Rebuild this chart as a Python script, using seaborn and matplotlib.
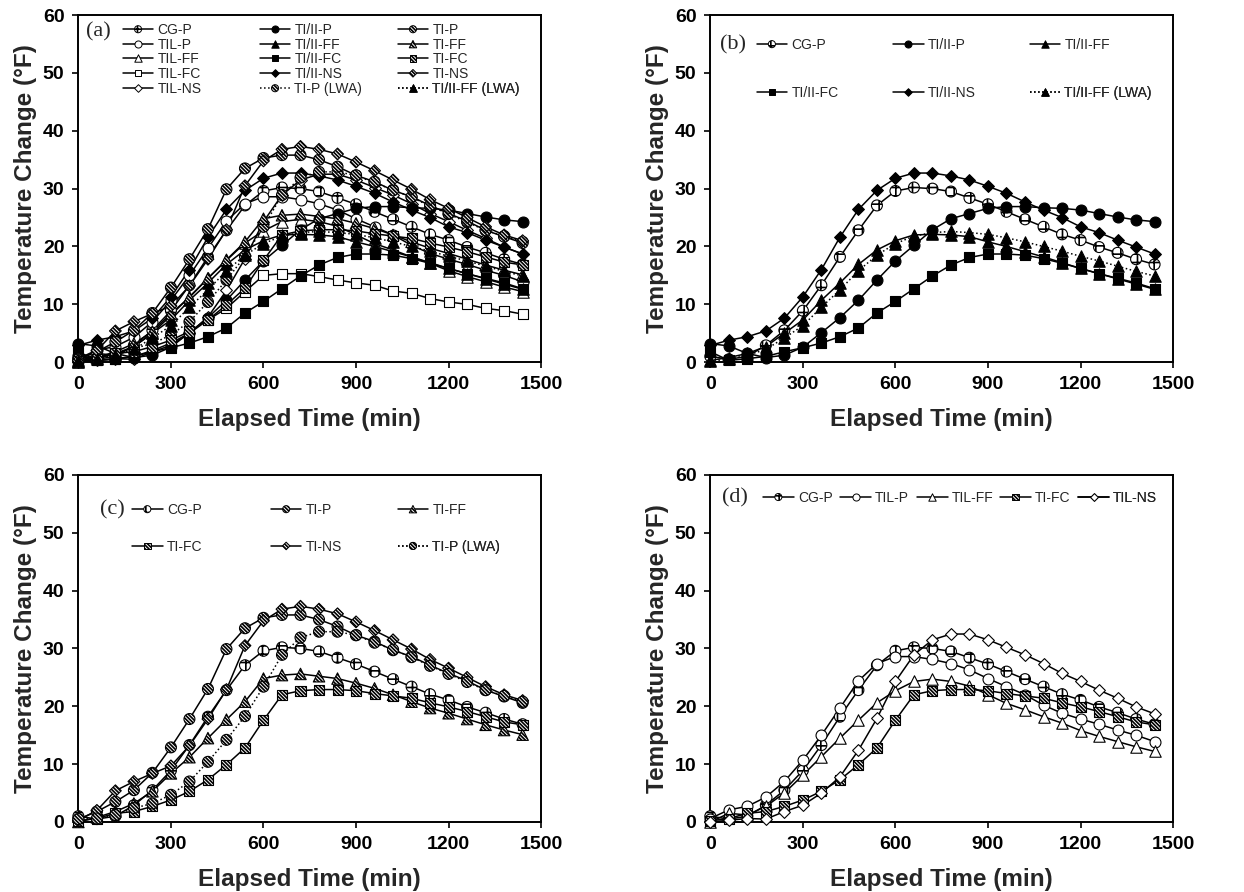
import numpy as np
import pandas as pd
import seaborn as sns
import matplotlib.pyplot as plt
from matplotlib.lines import Line2D
from matplotlib.legend_handler import HandlerTuple

# elapsed time, one reading per hour
time_min = list(range(0, 1441, 60))

# temperature change (F) per mix
cg_p = [1.0, 0.5, 1.0, 2.9, 5.5, 8.9, 13.3, 18.2, 22.8, 27.1, 29.6, 30.2, 30.0,
        29.5, 28.4, 27.3, 26.0, 24.7, 23.4, 22.1, 21.1, 19.9, 18.9, 17.8, 16.9]
til_p = [0.6, 2.1, 2.7, 4.3, 7.0, 10.7, 15.0, 19.7, 24.4, 27.4, 28.6, 28.6, 28.1,
         27.4, 26.3, 24.8, 23.4, 22.0, 20.2, 18.8, 17.8, 16.9, 15.9, 15.0, 13.9]
til_ff = [0.0, 1.5, 1.2, 2.7, 5.0, 8.1, 11.3, 14.5, 17.6, 20.6, 22.7, 24.3, 24.7,
          24.3, 23.5, 22.0, 20.5, 19.4, 18.2, 17.1, 15.8, 14.8, 13.9, 13.0, 12.2]
til_fc = [0.2, 0.3, 0.5, 1.0, 2.0, 3.3, 5.0, 7.3, 9.3, 12.2, 15.0, 15.3, 15.3,
          14.8, 14.2, 13.7, 13.3, 12.3, 11.9, 11.0, 10.4, 10.0, 9.3, 8.9, 8.3]
til_ns = [0.0, 0.3, 0.6, 0.5, 1.8, 2.9, 5.0, 7.8, 12.4, 17.9, 24.3, 28.9, 31.5,
          32.5, 32.5, 31.5, 30.2, 28.9, 27.4, 25.7, 24.3, 22.8, 21.4, 19.9, 18.7]
tiii_p = [3.2, 2.8, 1.5, 0.8, 1.2, 2.6, 5.1, 7.7, 10.7, 14.2, 17.5, 20.2, 22.9,
          24.8, 25.7, 26.6, 26.9, 26.9, 26.7, 26.6, 26.3, 25.7, 25.1, 24.6, 24.3]
tiii_ff = [0.3, 0.8, 1.5, 2.7, 5.0, 7.3, 10.7, 13.7, 16.9, 19.4, 21.0, 22.0, 22.1,
           22.0, 21.7, 20.8, 20.0, 19.1, 18.2, 17.2, 16.2, 15.3, 14.4, 13.5, 12.6]
tiii_fc = [1.8, 0.3, 0.6, 1.0, 1.8, 2.5, 3.3, 4.4, 5.9, 8.5, 10.5, 12.7, 14.9,
           16.8, 18.1, 18.7, 18.7, 18.5, 17.9, 17.1, 16.2, 15.3, 14.5, 13.7, 12.7]
tiii_ns = [2.9, 3.8, 4.4, 5.4, 7.6, 11.3, 16.0, 21.6, 26.4, 29.7, 31.8, 32.7, 32.7,
           32.2, 31.5, 30.4, 29.2, 27.7, 26.3, 25.0, 23.4, 22.4, 21.1, 19.9, 18.7]
tiii_ff_lwa = [0.2, 0.5, 1.2, 2.2, 4.2, 6.3, 9.5, 12.5, 15.8, 18.5, 20.5, 21.8, 22.4,
               22.6, 22.4, 22.1, 21.5, 20.8, 20.0, 19.2, 18.3, 17.5, 16.6, 15.7, 14.9]
ti_p = [0.5, 1.8, 3.5, 5.5, 8.5, 12.9, 17.8, 23.0, 29.9, 33.5, 35.3, 35.8, 35.8,
        35.0, 33.8, 32.3, 31.2, 29.7, 28.6, 27.1, 25.7, 24.4, 22.8, 21.7, 20.6]
ti_p_lwa = [0.5, 0.6, 1.2, 2.4, 3.2, 4.7, 7.0, 10.4, 14.2, 18.3, 23.4, 28.9, 31.9,
            32.9, 32.9, 32.3, 31.0, 29.8, 28.5, 27.0, 25.6, 24.2, 22.8, 21.8, 20.8]
ti_ff = [0.0, 0.8, 1.8, 3.2, 5.3, 8.4, 11.2, 14.5, 17.7, 20.8, 24.8, 25.4, 25.6,
         25.2, 24.8, 24.0, 23.1, 22.0, 20.8, 19.7, 18.8, 17.8, 16.8, 15.9, 15.1]
ti_fc = [0.2, 0.6, 1.5, 1.8, 2.7, 3.8, 5.3, 7.3, 9.9, 12.8, 17.6, 22.0, 22.7,
         22.9, 22.9, 22.7, 22.2, 21.8, 21.4, 20.6, 19.9, 19.1, 18.2, 17.3, 16.8]
ti_ns = [0.3, 2.0, 5.4, 7.0, 8.4, 9.7, 13.2, 17.8, 22.9, 30.5, 34.8, 36.8, 37.3,
         36.8, 36.0, 34.6, 33.1, 31.5, 29.9, 28.1, 26.6, 25.0, 23.4, 22.0, 21.0]

series = {
    "CG-P": cg_p, "TIL-P": til_p, "TIL-FF": til_ff, "TIL-FC": til_fc, "TIL-NS": til_ns,
    "TI/II-P": tiii_p, "TI/II-FF": tiii_ff, "TI/II-FC": tiii_fc, "TI/II-NS": tiii_ns,
    "TI/II-FF (LWA)": tiii_ff_lwa, "TI-P": ti_p, "TI-P (LWA)": ti_p_lwa,
    "TI-FF": ti_ff, "TI-FC": ti_fc, "TI-NS": ti_ns,
}

HATCH = "\\" * 9
# marker, fill, line style
styles = {
    "CG-P": ("o", "grid", "-"),
    "TIL-P": ("o", "open", "-"),
    "TIL-FF": ("^", "open", "-"),
    "TIL-FC": ("s", "open", "-"),
    "TIL-NS": ("D", "open", "-"),
    "TI/II-P": ("o", "solid", "-"),
    "TI/II-FF": ("^", "solid", "-"),
    "TI/II-FC": ("s", "solid", "-"),
    "TI/II-NS": ("D", "solid", "-"),
    "TI/II-FF (LWA)": ("^", "solid", ":"),
    "TI-P": ("o", "hatch", "-"),
    "TI-P (LWA)": ("o", "hatch", ":"),
    "TI-FF": ("^", "hatch", "-"),
    "TI-FC": ("s", "hatch", "-"),
    "TI-NS": ("D", "hatch", "-"),
}
sizes = {"o": 62, "^": 68, "s": 52, "D": 36}

# legend layout: (name, x, y) in axes fraction
panels = [
    ("(a)", (0.016, 0.951), [
        ("CG-P", 0.096, 0.957), ("TIL-P", 0.096, 0.914), ("TIL-FF", 0.096, 0.873),
        ("TIL-FC", 0.096, 0.830), ("TIL-NS", 0.096, 0.787),
        ("TI/II-P", 0.392, 0.957), ("TI/II-FF", 0.392, 0.914), ("TI/II-FC", 0.392, 0.873),
        ("TI/II-NS", 0.392, 0.830), ("TI-P (LWA)", 0.392, 0.787),
        ("TI-P", 0.69, 0.957), ("TI-FF", 0.69, 0.914), ("TI-FC", 0.69, 0.873),
        ("TI-NS", 0.69, 0.830), ("TI/II-FF (LWA)", 0.69, 0.787)]),
    ("(b)", (0.02, 0.914), [
        ("CG-P", 0.10, 0.914), ("TI/II-P", 0.395, 0.914), ("TI/II-FF", 0.69, 0.914),
        ("TI/II-FC", 0.10, 0.775), ("TI/II-NS", 0.395, 0.775), ("TI/II-FF (LWA)", 0.69, 0.775)]),
    ("(c)", (0.046, 0.899), [
        ("CG-P", 0.116, 0.899), ("TI-P", 0.416, 0.899), ("TI-FF", 0.69, 0.899),
        ("TI-FC", 0.116, 0.793), ("TI-NS", 0.416, 0.793), ("TI-P (LWA)", 0.69, 0.793)]),
    ("(d)", (0.026, 0.934), [
        ("CG-P", 0.114, 0.934), ("TIL-P", 0.281, 0.934), ("TIL-FF", 0.447, 0.934),
        ("TI-FC", 0.626, 0.934), ("TIL-NS", 0.795, 0.934)]),
]

sns.set_theme(style="ticks")
plt.rcParams['font.family'] = ['Liberation Sans', 'DejaVu Sans']
plt.rcParams['hatch.color'] = 'black'
plt.rcParams['hatch.linewidth'] = 1.2


def marker_kws(fill):
    if fill == "solid":
        return dict(facecolor="black", hatch=None)
    if fill == "open":
        return dict(facecolor="white", hatch=None)
    if fill == "grid":
        return dict(facecolor="white", hatch="++")
    return dict(facecolor="white", hatch=HATCH)


fig = plt.figure(figsize=(12.44, 8.92), dpi=100)
axes_pos = [[0.063, 0.594, 0.372, 0.389], [0.571, 0.594, 0.372, 0.389],
            [0.063, 0.0785, 0.372, 0.389], [0.571, 0.0785, 0.372, 0.389]]

for (tag, tag_xy, entries), pos in zip(panels, axes_pos):
    ax = fig.add_axes(pos)
    names = [e[0] for e in entries]
    # lines first, markers on top
    for name in names:
        mk, fill, ls = styles[name]
        sns.lineplot(x=time_min, y=series[name], color="black", linewidth=1.1,
                     linestyle=ls, errorbar=None, ax=ax, legend=False, zorder=2)
    for name in names:
        mk, fill, ls = styles[name]
        sns.scatterplot(x=time_min, y=series[name], marker=mk, s=sizes[mk],
                        color="black", edgecolor="black", linewidth=0.8,
                        ax=ax, legend=False, zorder=3, clip_on=False,
                        **marker_kws(fill))

    ax.set_xlim(0, 1500)
    ax.set_ylim(0, 60)
    ax.set_xticks(range(0, 1501, 300))
    ax.set_yticks(range(0, 61, 10))
    for sp in ax.spines.values():
        sp.set_visible(True)
        sp.set_linewidth(1.4)
        sp.set_color("black")
    ax.tick_params(direction="out", length=4, width=1.2, colors="black",
                   labelsize=14, pad=6)
    for lab in ax.get_xticklabels() + ax.get_yticklabels():
        lab.set_fontweight("bold")
    ax.set_xlabel("Elapsed Time (min)", fontsize=17.5, fontweight="bold", labelpad=11)
    ax.set_ylabel("Temperature Change (°F)", fontsize=17.5, fontweight="bold", labelpad=4)

    ax.text(tag_xy[0], tag_xy[1], tag, transform=ax.transAxes, ha="left", va="center",
            fontsize=16, family=["Liberation Serif", "DejaVu Serif"])

    for name, lx, ly in entries:
        mk, fill, ls = styles[name]
        line_h = Line2D([], [], color="black", linewidth=1.1, linestyle=ls)
        kw = marker_kws(fill)
        scat_h = ax.scatter([], [], marker=mk, s=sizes[mk] * 0.42, edgecolor="black",
                            linewidth=0.7, facecolor=kw["facecolor"], hatch=kw["hatch"])
        leg = ax.legend(handles=[(line_h, scat_h)], labels=[name], loc="center left",
                        bbox_to_anchor=(lx, ly), bbox_transform=ax.transAxes,
                        frameon=False, borderpad=0, borderaxespad=0,
                        handlelength=2.2, handletextpad=0.3, fontsize=10,
                        scatteryoffsets=[0.5],
                        handler_map={tuple: HandlerTuple(ndivide=1)})
        ax.add_artist(leg)

fig.savefig("out.png", dpi=100)
